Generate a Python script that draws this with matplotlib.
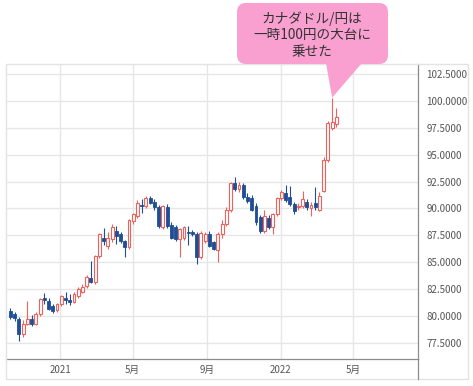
# CAD/JPY weekly candles, Oct 2020 - Apr 2022

import numpy as np
import pandas as pd
import matplotlib
matplotlib.use('Agg')
import matplotlib.pyplot as plt
import matplotlib.dates as mdates
from matplotlib.patches import FancyBboxPatch, Polygon, Rectangle
from matplotlib.lines import Line2D

plt.rcParams['font.family'] = ['Noto Sans CJK JP', 'DejaVu Sans']

# weekly bars (Sunday dated)
weeks = pd.date_range('2020-10-11', periods=78, freq='W-SUN')

opens = [80.45, 80.15, 79.75, 78.35, 79.30, 79.75, 79.30, 80.20, 81.65, 81.40,
         80.90, 80.55, 81.10, 81.70, 81.50, 81.35, 81.90, 82.25, 82.75, 83.50,
         83.15, 85.55, 87.30, 86.50, 87.15, 87.90, 87.60, 86.95, 86.40, 88.80,
         89.30, 90.35, 90.20, 91.00, 90.60, 90.10, 88.25, 90.10, 88.45, 88.30,
         87.15, 87.30, 87.85, 87.85, 87.60, 85.50, 86.95, 87.60, 86.85, 86.10,
         87.60, 88.60, 89.90, 92.40, 91.80, 92.15, 91.10, 91.00, 90.20, 89.20,
         87.90, 89.10, 88.30, 89.45, 91.00, 91.45, 91.10, 90.40, 90.10, 90.20,
         90.60, 90.00, 90.50, 89.90, 91.60, 94.50, 97.50, 97.85]
highs = [80.75, 80.40, 79.95, 79.60, 81.40, 80.10, 80.40, 81.70, 82.10, 81.70,
         81.10, 81.20, 82.00, 82.25, 82.05, 82.20, 82.70, 82.95, 83.80, 85.10,
         85.70, 87.70, 88.15, 87.80, 88.60, 88.35, 87.80, 87.10, 89.00, 89.60,
         90.75, 90.85, 91.20, 91.20, 90.85, 90.30, 90.35, 90.40, 88.70, 88.50,
         88.15, 88.40, 88.35, 88.00, 87.80, 87.90, 87.80, 87.90, 87.00, 87.85,
         88.90, 90.10, 92.50, 92.95, 92.50, 92.40, 91.40, 91.30, 90.50, 89.40,
         89.90, 89.40, 89.60, 91.10, 91.70, 92.20, 92.05, 90.60, 90.50, 91.60,
         90.90, 90.60, 92.00, 91.50, 94.80, 98.10, 100.30, 99.35]
lows = [79.70, 79.50, 77.70, 78.10, 79.20, 79.10, 79.15, 80.00, 81.10, 80.55,
        80.30, 80.40, 80.95, 81.10, 81.00, 81.20, 81.70, 82.10, 82.60, 83.05,
        83.00, 85.40, 86.65, 86.20, 86.90, 86.70, 86.80, 85.45, 86.20, 88.60,
        89.10, 89.55, 90.00, 90.40, 89.90, 88.20, 88.10, 88.20, 87.20, 87.00,
        85.45, 87.10, 86.65, 87.40, 84.80, 85.30, 86.80, 86.40, 86.10, 85.00,
        87.30, 88.40, 89.70, 91.60, 91.50, 90.90, 90.50, 89.80, 88.50, 87.70,
        87.70, 88.10, 87.60, 89.30, 90.80, 90.60, 90.20, 89.50, 89.90, 90.00,
        89.90, 89.30, 89.90, 89.80, 91.50, 94.30, 97.30, 97.60]
closes = [79.90, 79.80, 78.35, 79.30, 79.75, 79.30, 80.20, 81.55, 81.50, 80.70,
          80.50, 81.10, 81.85, 81.50, 81.30, 82.05, 82.50, 82.70, 83.60, 83.15,
          85.55, 87.60, 86.95, 87.30, 88.25, 87.45, 86.95, 86.40, 88.95, 89.45,
          90.55, 90.20, 91.00, 90.55, 90.10, 88.35, 90.20, 88.35, 87.30, 87.15,
          88.05, 88.25, 87.75, 87.60, 85.50, 87.75, 87.60, 86.50, 86.20, 87.60,
          88.60, 89.90, 92.40, 91.80, 92.20, 91.05, 90.65, 89.90, 88.70, 87.90,
          89.30, 88.30, 89.45, 91.00, 91.55, 90.80, 90.40, 89.75, 90.25, 90.85,
          90.10, 90.30, 90.10, 91.20, 94.50, 97.90, 98.05, 98.50]

yticks = [77.5, 80.0, 82.5, 85.0, 87.5, 90.0, 92.5, 95.0, 97.5, 100.0, 102.5]
xtick_dates = ['2021-01-01', '2021-05-01', '2021-09-01', '2022-01-01', '2022-05-01']
xtick_labels = ['2021', '5月', '9月', '2022', '5月']
note = 'カナダドル/円は\n一時100円の大台に\n乗せた'

RED = '#ef625c'
BLUE = '#1f4e96'
PINK = '#f9a0d1'
W, H = 473, 386

fig = plt.figure(figsize=(W / 100, H / 100), dpi=100)
ax = fig.add_axes([6 / W, 1 - 359 / H, 412 / W, 295 / H])

x = mdates.date2num(weeks)
o = np.array(opens)
c = np.array(closes)
hi = np.array(highs)
lo = np.array(lows)
up = c >= o

# wicks, then bodies on top (up = hollow red, down = filled blue)
ax.vlines(x[up], lo[up], hi[up], color=RED, lw=0.8, zorder=2)
ax.vlines(x[~up], lo[~up], hi[~up], color=BLUE, lw=0.8, zorder=2)
bw = 4.8
ax.bar(x[up], (c - o)[up], bottom=o[up], width=bw, facecolor='white',
       edgecolor=RED, linewidth=0.8, zorder=3)
ax.bar(x[~up], (o - c)[~up], bottom=c[~up], width=bw, facecolor=BLUE,
       edgecolor=BLUE, linewidth=0.6, zorder=3)

ax.set_xlim(mdates.date2num(pd.Timestamp('2020-10-03 14:00')),
            mdates.date2num(pd.Timestamp('2022-08-16')))
ax.set_ylim(76.01, 103.43)

ax.set_xticks(mdates.date2num(pd.to_datetime(xtick_dates)))
ax.set_xticklabels(xtick_labels)
ax.set_yticks(yticks)
ax.set_yticklabels(['%.4f' % v for v in yticks])
ax.yaxis.tick_right()
ax.tick_params(axis='both', length=0, labelsize=7, labelcolor='#555555')
ax.tick_params(axis='x', pad=4)
ax.tick_params(axis='y', pad=6)
ax.grid(True, color='#e6e6e6', lw=1)
ax.set_axisbelow(True)

for s in ['left', 'top']:
    ax.spines[s].set_visible(False)
for s in ['bottom', 'right']:
    ax.spines[s].set_color('#8c8c8c')
    ax.spines[s].set_linewidth(0.9)

# outer frame and price-axis separator, in inches
tr = fig.dpi_scale_trans
def px(xp, yp):
    return (xp / 100, (H - yp) / 100)
fig.patches.append(Rectangle(px(6, 379), 462 / 100, 315 / 100, transform=tr,
                             fill=False, edgecolor='#e3e3e3', lw=1))
fig.lines.append(Line2D([4.18, 4.18], [(H - 359) / 100, (H - 379) / 100],
                        transform=tr, color='#8c8c8c', lw=0.9))

# callout pointing at the highest bar
i_max = int(np.argmax(hi))
tip = tr.inverted().transform(ax.transData.transform((x[i_max], hi[i_max])))
box = FancyBboxPatch(px(237, 64), 151 / 100, 61 / 100, transform=tr,
                     boxstyle='round,pad=0,rounding_size=0.09',
                     facecolor=PINK, edgecolor='none', zorder=5)
fig.patches.append(box)
tri = Polygon([px(326, 63), px(362, 63), tip], closed=True, transform=tr,
              facecolor=PINK, edgecolor='none', zorder=5)
fig.patches.append(tri)
fig.text(312 / W, 1 - 35 / H, note, ha='center', va='center', fontsize=9.8,
         color='#333333', linespacing=1.2, zorder=6)

fig.savefig('out.png', dpi=100)
